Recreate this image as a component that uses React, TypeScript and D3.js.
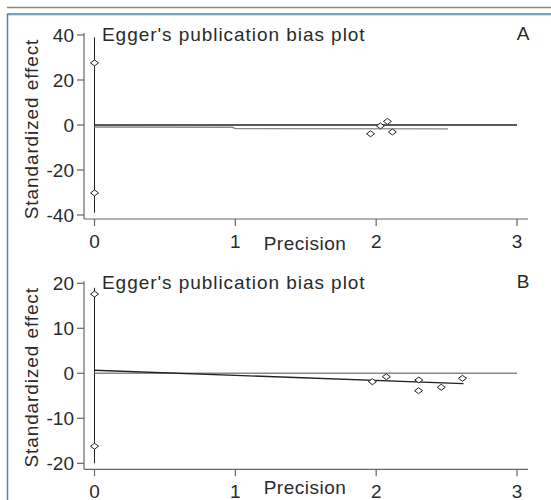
import React from "react";
import * as d3 from "d3";

const xTicks = [0, 1, 2, 3];
const yTicksA = [40, 20, 0, -20, -40];
const yTicksB = [20, 10, 0, -10, -20];

// Panel A
const precisionA = [0.0, 0.0, 1.96, 2.03, 2.08, 2.115];
const effectA = [27.6, -30.2, -3.9, -0.4, 1.6, -3.1];
const ciA = [-39, 39];
const fitA: [number, number][] = [[0, -0.9], [0.98, -1.0], [1.0, -1.6], [2.51, -1.7]];
const zeroA: [number, number][] = [[0, 0], [3, 0]];

// Panel B
const precisionB = [0.0, 0.0, 1.973, 2.072, 2.303, 2.301, 2.462, 2.613];
const effectB = [17.6, -16.2, -1.87, -0.76, -1.49, -3.87, -3.11, -1.11];
const ciB = [-20, 19];
const fitB: [number, number][] = [[0, 0.67], [2.62, -2.3]];
const zeroB: [number, number][] = [[0, 0], [3, 0]];

const FONT = "'Liberation Sans', Arial, Helvetica, sans-serif";

type PanelProps = {
  top: number;
  axisGap: number;
  yTicks: number[];
  yDomain: [number, number];
  px: number[];
  py: number[];
  ci: number[];
  fit: [number, number][];
  zero: [number, number][];
  fitColor: string;
  zeroColor: string;
  letter: string;
  precisionDy: number;
};

function Panel(p: PanelProps) {
  const x = d3.scaleLinear().domain([0, 3]).range([94.5, 517]);
  const y = d3.scaleLinear().domain(p.yDomain).range([p.top + 180, p.top]);
  const axisY = p.top + p.axisGap;
  const axisX = 84;
  const line = d3.line<[number, number]>().x((d) => x(d[0])).y((d) => y(d[1]));
  const diamond = (cx: number, cy: number) =>
    `M${cx - 4},${cy}L${cx},${cy - 3}L${cx + 4},${cy}L${cx},${cy + 3}Z`;
  return (
    <g>
      <line x1={axisX} x2={axisX} y1={p.top - 2} y2={axisY} stroke="#666" strokeWidth={1.2} />
      <line x1={axisX} x2={528} y1={axisY} y2={axisY} stroke="#666" strokeWidth={1.2} />
      {p.yTicks.map((t) => (
        <g key={"y" + t}>
          <line x1={axisX - 7} x2={axisX} y1={y(t)} y2={y(t)} stroke="#666" strokeWidth={1.2} />
          <text x={axisX - 10} y={y(t)} dy="0.36em" textAnchor="end" fontSize={19} fill="#2a2a2a">
            {t}
          </text>
        </g>
      ))}
      {xTicks.map((t) => (
        <g key={"x" + t}>
          <line x1={x(t)} x2={x(t)} y1={axisY} y2={axisY + 7} stroke="#666" strokeWidth={1.2} />
          <text x={x(t)} y={axisY + 29} textAnchor="middle" fontSize={19} fill="#2a2a2a">
            {t}
          </text>
        </g>
      ))}
      <text
        x={305}
        y={axisY + 31 + p.precisionDy}
        textAnchor="middle"
        fontSize={19}
        letterSpacing={0.5}
        fill="#2a2a2a"
      >
        Precision
      </text>
      <text
        transform={`translate(38,${p.top + 94}) rotate(-90)`}
        textAnchor="middle"
        fontSize={19}
        letterSpacing={0.9}
        fill="#2a2a2a"
      >
        Standardized effect
      </text>
      <text x={102} y={p.top + 6} fontSize={19} letterSpacing={0.95} fill="#2a2a2a">
        Egger's publication bias plot
      </text>
      <text x={523} y={p.top + 5} textAnchor="middle" fontSize={19} fill="#2a2a2a">
        {p.letter}
      </text>
      <line x1={x(0)} x2={x(0)} y1={y(p.ci[0])} y2={y(p.ci[1])} stroke="#222" strokeWidth={1} />
      <path d={line(p.zero) || ""} fill="none" stroke={p.zeroColor} strokeWidth={1.4} />
      <path d={line(p.fit) || ""} fill="none" stroke={p.fitColor} strokeWidth={1.4} />
      {p.px.map((v, i) => (
        <path key={i} d={diamond(x(v), y(p.py[i]))} fill="white" stroke="#222" strokeWidth={1} />
      ))}
    </g>
  );
}

export default function App() {
  return (
    <svg
      width={551}
      height={500}
      style={{ position: "absolute", left: 0, top: 0, fontFamily: FONT, background: "white" }}
    >
      <rect x={0} y={0} width={551} height={500} fill="white" />
      <line x1={7} x2={551} y1={7.5} y2={7.5} stroke="#888" strokeWidth={1.5} />
      <line x1={7} x2={551} y1={14} y2={14} stroke="#4a86b0" strokeWidth={1.5} />
      <line x1={8} x2={551} y1={15.5} y2={15.5} stroke="#ddd" strokeWidth={1} />
      <line x1={7.5} x2={7.5} y1={14} y2={500} stroke="#4a86b0" strokeWidth={1.5} />
      <Panel
        top={35}
        axisGap={184}
        yTicks={yTicksA}
        yDomain={[-40, 40]}
        px={precisionA}
        py={effectA}
        ci={ciA}
        fit={fitA}
        zero={zeroA}
        fitColor="#888"
        zeroColor="#222"
        letter="A"
        precisionDy={0}
      />
      <Panel
        top={283.3}
        axisGap={186}
        yTicks={yTicksB}
        yDomain={[-20, 20]}
        px={precisionB}
        py={effectB}
        ci={ciB}
        fit={fitB}
        zero={zeroB}
        fitColor="#222"
        zeroColor="#888"
        letter="B"
        precisionDy={-6}
      />
    </svg>
  );
}
